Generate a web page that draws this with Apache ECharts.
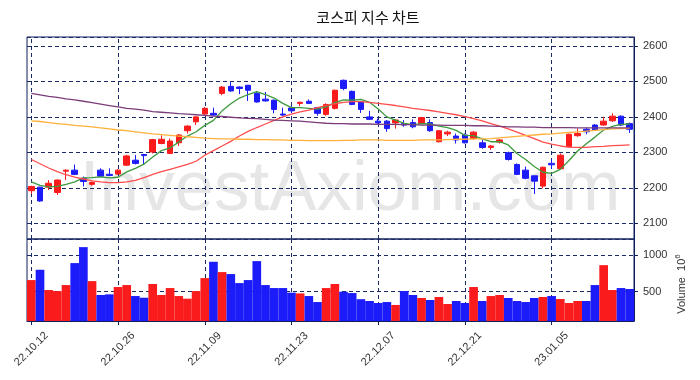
<!DOCTYPE html>
<html><head><meta charset="utf-8">
<script src="https://cdn.jsdelivr.net/npm/echarts@6/dist/echarts.min.js"></script>
<style>html,body{margin:0;padding:0;background:#fff}#c{width:700px;height:380px}</style>
</head><body><div id="c"></div>
<script>
const dates = ['22.10.12','22.10.13','22.10.14','22.10.17','22.10.18','22.10.19','22.10.20','22.10.21','22.10.24','22.10.25',
'22.10.26','22.10.27','22.10.28','22.10.31','22.11.01','22.11.02','22.11.03','22.11.04','22.11.07','22.11.08',
'22.11.09','22.11.10','22.11.11','22.11.14','22.11.15','22.11.16','22.11.17','22.11.18','22.11.21','22.11.22',
'22.11.23','22.11.24','22.11.25','22.11.28','22.11.29','22.11.30','22.12.01','22.12.02','22.12.05','22.12.06',
'22.12.07','22.12.08','22.12.09','22.12.12','22.12.13','22.12.14','22.12.15','22.12.16','22.12.19','22.12.20',
'22.12.21','22.12.22','22.12.23','22.12.26','22.12.27','22.12.28','22.12.29','23.01.02','23.01.03','23.01.04',
'23.01.05','23.01.06','23.01.09','23.01.10','23.01.11','23.01.12','23.01.13','23.01.16','23.01.17','23.01.18'];

const opens = [2192,2202,2202,2187,2247,2250,2227,2210,2250,2238,
2239,2264,2278,2294,2301,2325,2297,2327,2361,2386,
2408,2410,2466,2486,2484,2489,2466,2450,2447,2408,
2425,2438,2444,2426,2407,2424,2503,2472,2442,2400,
2388,2388,2383,2381,2384,2381,2384,2330,2352,2346,
2349,2339,2327,2314,2329,2299,2266,2250,2234,2205,
2269,2254,2316,2347,2365,2377,2377,2389,2402,2381];
const closes = [2204,2163,2213,2222,2250,2238,2218,2215,2233,2235,
2250,2290,2269,2291,2336,2337,2332,2349,2374,2400,
2424,2405,2484,2473,2480,2475,2442,2445,2421,2405,
2417,2441,2438,2410,2435,2475,2480,2435,2421,2393,
2383,2367,2391,2377,2372,2398,2361,2361,2357,2335,
2327,2357,2314,2318,2335,2280,2238,2227,2219,2258,
2265,2292,2351,2353,2358,2363,2388,2402,2377,2365];
const lows = [2183,2161,2194,2180,2222,2236,2204,2206,2231,2233,
2237,2262,2266,2266,2297,2323,2295,2318,2353,2377,
2406,2403,2461,2471,2464,2445,2440,2443,2410,2403,
2411,2430,2436,2403,2403,2421,2475,2433,2411,2391,
2381,2358,2367,2372,2368,2379,2358,2328,2346,2325,
2325,2335,2310,2307,2325,2277,2236,2224,2183,2199,
2253,2252,2314,2344,2351,2361,2375,2386,2374,2355];
const highs = [2206,2203,2222,2224,2252,2266,2232,2218,2255,2255,
2253,2293,2293,2296,2338,2348,2339,2351,2376,2402,
2428,2426,2487,2498,2486,2490,2473,2470,2449,2426,
2430,2443,2449,2428,2438,2477,2505,2474,2445,2417,
2395,2391,2393,2391,2393,2400,2393,2363,2361,2353,
2353,2360,2335,2321,2337,2302,2269,2260,2234,2260,
2280,2297,2353,2367,2370,2380,2400,2410,2404,2384];
const volumes = [659,800,523,509,591,891,1109,645,455,464,
564,591,441,418,605,455,550,441,405,509,
686,909,768,741,618,659,918,591,550,550,
487,477,441,359,550,605,500,482,398,373,
346,359,319,509,455,414,387,428,332,373,
346,564,373,441,455,414,373,359,414,428,
441,400,346,373,373,591,863,523,550,537];
const ma5 = [2217,2207,2203,2204,2210,2217,2228,2229,2231,2228,
2230,2245,2255,2267,2287,2305,2313,2329,2346,2358,
2376,2390,2417,2437,2453,2463,2471,2463,2453,2438,
2426,2426,2424,2422,2428,2440,2448,2447,2449,2441,
2422,2400,2391,2382,2378,2381,2380,2374,2370,2362,
2348,2347,2338,2330,2330,2321,2297,2280,2260,2244,
2241,2252,2277,2304,2324,2343,2363,2373,2379,2380];
const ma20 = [2280,2268,2256,2246,2237,2230,2225,2220,2217,2215,
2215,2217,2221,2229,2238,2246,2252,2259,2266,2275,
2292,2305,2318,2331,2346,2359,2370,2380,2390,2400,
2408,2414,2419,2426,2432,2437,2441,2443,2443,2441,
2438,2435,2432,2428,2424,2421,2418,2414,2410,2406,
2401,2395,2389,2381,2374,2366,2357,2348,2339,2329,
2323,2318,2315,2314,2314,2316,2317,2319,2320,2321];
const ma60 = [2389,2387,2384,2381,2379,2376,2374,2372,2369,2366,
2363,2361,2358,2355,2352,2350,2348,2346,2344,2342,
2340,2339,2338,2338,2337,2337,2336,2336,2335,2335,
2334,2334,2333,2333,2333,2333,2334,2334,2335,2335,
2335,2334,2334,2334,2334,2335,2335,2335,2336,2337,
2337,2338,2338,2339,2341,2343,2345,2347,2349,2351,
2352,2354,2356,2358,2360,2362,2364,2366,2367,2368];
const ma120 = [2466,2462,2458,2455,2451,2448,2444,2440,2436,2432,
2428,2424,2422,2419,2415,2413,2411,2409,2408,2406,
2404,2402,2401,2399,2397,2396,2395,2393,2391,2390,
2389,2388,2386,2384,2382,2381,2381,2380,2380,2380,
2379,2379,2379,2378,2378,2377,2377,2377,2376,2376,
2376,2375,2375,2374,2373,2372,2372,2371,2371,2370,
2370,2370,2370,2369,2369,2369,2369,2369,2369,2369];

const UP = '#fa1c1c', DOWN = '#1c1cfa';
const NAVY = '#0f1f5c';
const DASH = {color: '#1a2a66', type: [4, 3], width: 1};
const candleData = dates.map((d, i) => [opens[i], closes[i], lows[i], highs[i]]);
const volData = volumes.map((v, i) => ({value: v, itemStyle: {color: closes[i] >= opens[i] ? UP : DOWN}}));

const chart = echarts.init(document.getElementById('c'));
const fontFam = '"Liberation Sans", Arial, sans-serif';
const plain = v => String(v);
chart.setOption({
  animation: false,
  backgroundColor: '#fff',
  textStyle: {fontFamily: fontFam},
  title: {text: '코스피 지수 차트', left: 363, top: 5, textAlign: 'center',
    textStyle: {fontFamily: '"Noto Sans CJK KR", sans-serif', fontSize: 15, fontWeight: 'normal', color: '#111'}},
  graphic: {elements: [
    {type: 'text', z: -10, silent: true, x: 350, y: 190,
      style: {text: 'InvestAxiom.com', font: '71px "Liberation Sans", Arial, sans-serif', fill: '#e6e6e6', textAlign: 'center', textVerticalAlign: 'middle'}},
    {type: 'text', x: 682, y: 284, rotation: Math.PI / 2, silent: true,
      style: {text: 'Volume  10{s|6}', font: '11px "Liberation Sans", Arial, sans-serif', fill: '#333', textAlign: 'center', textVerticalAlign: 'middle',
        rich: {s: {fontSize: 8, verticalAlign: 'top', padding: [0, 0, 8, 0], fill: '#333'}}}}
  ]},
  grid: [
    {left: 27, top: 37, width: 607, height: 202, show: true, borderColor: NAVY, borderWidth: 1, backgroundColor: 'transparent'},
    {left: 27, top: 239, width: 607, height: 82, show: true, borderColor: NAVY, borderWidth: 1, backgroundColor: 'transparent'}
  ],
  xAxis: [
    {type: 'category', data: dates, gridIndex: 0, boundaryGap: true,
      axisLine: {show: false}, axisLabel: {show: false}, splitLine: {show: false},
      axisTick: {show: true, inside: true, length: 202, alignWithLabel: true, interval: 9, lineStyle: DASH}},
    {type: 'category', data: dates, gridIndex: 1, boundaryGap: true, position: 'bottom',
      axisLine: {show: true, lineStyle: {color: NAVY}},
      axisTick: {show: true, length: 4, alignWithLabel: true, interval: 9, lineStyle: {color: NAVY}},
      axisLabel: {interval: 9, rotate: 45, align: 'center', verticalAlign: 'middle', margin: 28, fontSize: 11, color: '#333', fontFamily: fontFam},
      splitLine: {show: false}},
    {type: 'category', data: dates, gridIndex: 1, boundaryGap: true, position: 'top',
      axisLine: {show: false}, axisLabel: {show: false}, splitLine: {show: false},
      axisTick: {show: true, inside: true, length: 82, alignWithLabel: true, interval: 9, lineStyle: DASH}}
  ],
  yAxis: [
    {type: 'value', gridIndex: 0, position: 'right', min: 2056, max: 2625, splitNumber: 5, scale: true,
      axisLine: {show: true, lineStyle: {color: NAVY}},
      axisTick: {show: true, length: 4, lineStyle: {color: NAVY}},
      axisLabel: {showMinLabel: false, showMaxLabel: false, margin: 9, fontSize: 11, color: '#333', fontFamily: fontFam, formatter: plain},
      splitLine: {show: true, lineStyle: DASH}},
    {type: 'value', gridIndex: 1, position: 'right', min: 100, max: 1220, splitNumber: 2,
      axisLine: {show: true, lineStyle: {color: NAVY}},
      axisTick: {show: true, length: 4, lineStyle: {color: NAVY}},
      axisLabel: {showMinLabel: false, showMaxLabel: false, margin: 9, fontSize: 11, color: '#333', fontFamily: fontFam, formatter: plain},
      splitLine: {show: true, lineStyle: DASH}}
  ],
  series: [
    {type: 'candlestick', xAxisIndex: 0, yAxisIndex: 0, data: candleData, barWidth: 6,
      itemStyle: {color: UP, color0: DOWN, borderColor: UP, borderColor0: DOWN, borderWidth: 1}},
    {type: 'line', xAxisIndex: 0, yAxisIndex: 0, data: ma5, showSymbol: false, z: 3, lineStyle: {color: '#3d9a3d', width: 1.3}},
    {type: 'line', xAxisIndex: 0, yAxisIndex: 0, data: ma20, showSymbol: false, z: 3, lineStyle: {color: '#ff4d4d', width: 1.3}},
    {type: 'line', xAxisIndex: 0, yAxisIndex: 0, data: ma60, showSymbol: false, z: 3, lineStyle: {color: '#ffb03a', width: 1.3}},
    {type: 'line', xAxisIndex: 0, yAxisIndex: 0, data: ma120, showSymbol: false, z: 3, lineStyle: {color: '#7a3d7a', width: 1.3}},
    {type: 'bar', xAxisIndex: 1, yAxisIndex: 1, data: volData, barCategoryGap: '0%'}
  ]
});
</script></body></html>
